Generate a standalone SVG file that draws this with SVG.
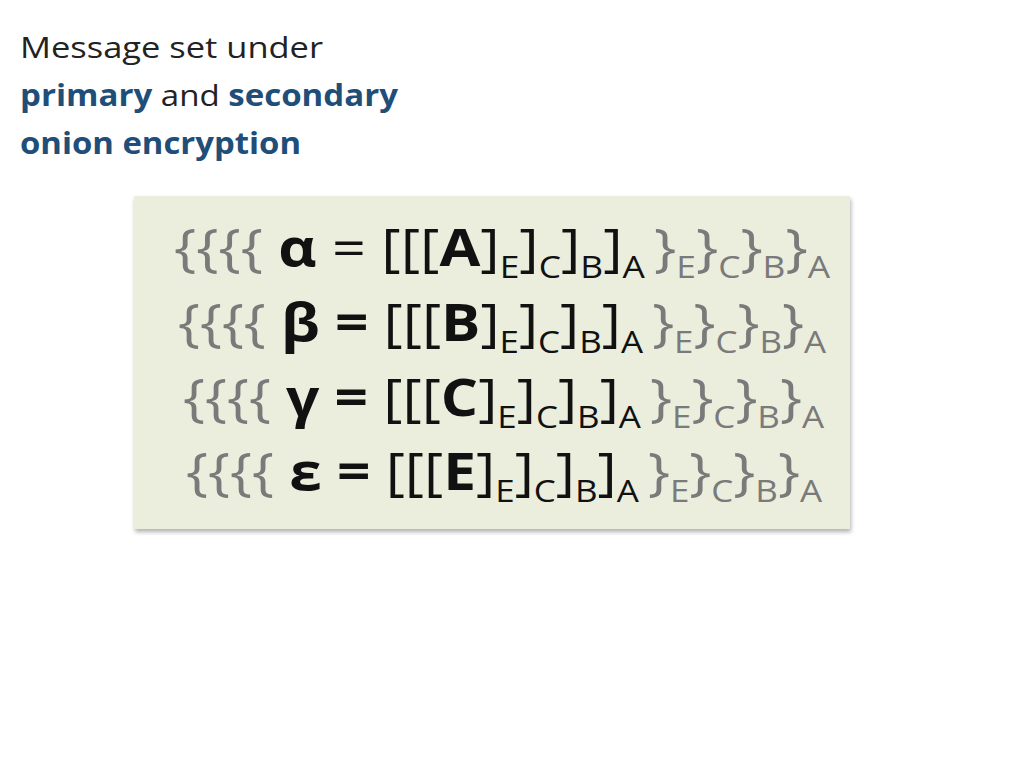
<svg xmlns="http://www.w3.org/2000/svg" width="1024" height="768" viewBox="0 0 1024 768">
<style>
.t{font-family:"Open Sans",Lato,sans-serif;font-size:30px;fill:#222}
.blue{fill:#1f4e79;font-weight:bold}
.f{font-family:"Open Sans",Lato,sans-serif;font-size:52px;fill:#111}
.g{fill:#7a7a7a}
.b{font-weight:bold}
.s{font-size:31px}
</style>
<defs><filter id="sh" x="-5%" y="-5%" width="110%" height="115%"><feDropShadow dx="1" dy="3" stdDeviation="2" flood-color="#000" flood-opacity="0.3"/></filter></defs>
<rect width="1024" height="768" fill="#fff"/>
<g id="title">
<text class="t" x="20" y="58" textLength="303" lengthAdjust="spacingAndGlyphs">Message set under</text>
<text class="t" x="20" y="106" textLength="378" lengthAdjust="spacingAndGlyphs"><tspan class="blue">primary</tspan> and <tspan class="blue">secondary</tspan></text>
<text class="t" x="20" y="154" textLength="281" lengthAdjust="spacingAndGlyphs"><tspan class="blue">onion encryption</tspan></text>
</g>
<g id="box">
<rect x="134" y="196" width="716" height="333" fill="#ebeedd" filter="url(#sh)"/>
<text class="f" x="174" y="266" textLength="656" lengthAdjust="spacingAndGlyphs"><tspan class="g">{{{{ </tspan><tspan class="b">α</tspan> = [[[<tspan class="b">A</tspan>]<tspan class="s" dy="12">E</tspan><tspan dy="-12">]</tspan><tspan class="s" dy="12">C</tspan><tspan dy="-12">]</tspan><tspan class="s" dy="12">B</tspan><tspan dy="-12">]</tspan><tspan class="s" dy="12">A </tspan><tspan class="g" dy="-12"> }</tspan><tspan class="s g" dy="12">E</tspan><tspan class="g" dy="-12">}</tspan><tspan class="s g" dy="12">C</tspan><tspan class="g" dy="-12">}</tspan><tspan class="s g" dy="12">B</tspan><tspan class="g" dy="-12">}</tspan><tspan class="s g" dy="12">A</tspan></text>
<text class="f" x="178" y="341" textLength="648" lengthAdjust="spacingAndGlyphs"><tspan class="g">{{{{ </tspan><tspan class="b">β = </tspan>[[[<tspan class="b">B</tspan>]<tspan class="s" dy="12">E</tspan><tspan dy="-12">]</tspan><tspan class="s" dy="12">C</tspan><tspan dy="-12">]</tspan><tspan class="s" dy="12">B</tspan><tspan dy="-12">]</tspan><tspan class="s" dy="12">A </tspan><tspan class="g" dy="-12"> }</tspan><tspan class="s g" dy="12">E</tspan><tspan class="g" dy="-12">}</tspan><tspan class="s g" dy="12">C</tspan><tspan class="g" dy="-12">}</tspan><tspan class="s g" dy="12">B</tspan><tspan class="g" dy="-12">}</tspan><tspan class="s g" dy="12">A</tspan></text>
<text class="f" x="183" y="416" textLength="641" lengthAdjust="spacingAndGlyphs"><tspan class="g">{{{{ </tspan><tspan class="b">γ = </tspan>[[[<tspan class="b">C</tspan>]<tspan class="s" dy="12">E</tspan><tspan dy="-12">]</tspan><tspan class="s" dy="12">C</tspan><tspan dy="-12">]</tspan><tspan class="s" dy="12">B</tspan><tspan dy="-12">]</tspan><tspan class="s" dy="12">A </tspan><tspan class="g" dy="-12"> }</tspan><tspan class="s g" dy="12">E</tspan><tspan class="g" dy="-12">}</tspan><tspan class="s g" dy="12">C</tspan><tspan class="g" dy="-12">}</tspan><tspan class="s g" dy="12">B</tspan><tspan class="g" dy="-12">}</tspan><tspan class="s g" dy="12">A</tspan></text>
<text class="f" x="186" y="490" textLength="636" lengthAdjust="spacingAndGlyphs"><tspan class="g">{{{{ </tspan><tspan class="b">ε = </tspan>[[[<tspan class="b">E</tspan>]<tspan class="s" dy="12">E</tspan><tspan dy="-12">]</tspan><tspan class="s" dy="12">C</tspan><tspan dy="-12">]</tspan><tspan class="s" dy="12">B</tspan><tspan dy="-12">]</tspan><tspan class="s" dy="12">A </tspan><tspan class="g" dy="-12"> }</tspan><tspan class="s g" dy="12">E</tspan><tspan class="g" dy="-12">}</tspan><tspan class="s g" dy="12">C</tspan><tspan class="g" dy="-12">}</tspan><tspan class="s g" dy="12">B</tspan><tspan class="g" dy="-12">}</tspan><tspan class="s g" dy="12">A</tspan></text>
</g>
</svg>
